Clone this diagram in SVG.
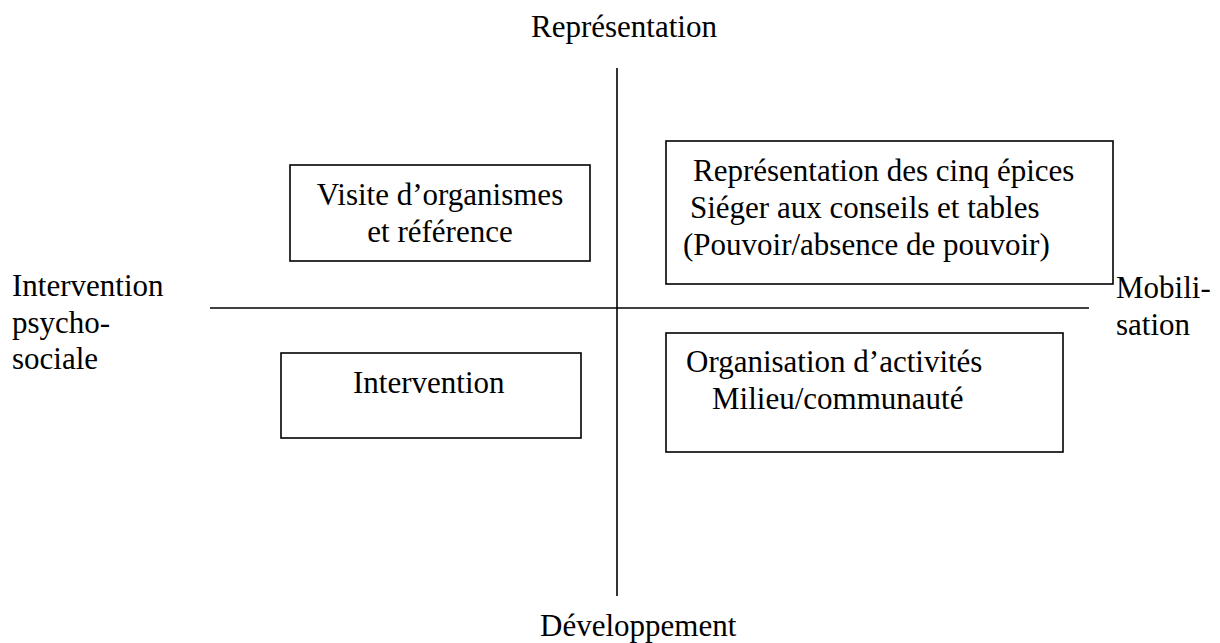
<svg xmlns="http://www.w3.org/2000/svg" width="1220" height="643" viewBox="0 0 1220 643">
<style>
text{font-family:"Liberation Serif","Times New Roman",serif;font-size:31px;fill:#000}
.box{fill:#fff;stroke:#000;stroke-width:1.6}
.axis{stroke:#000;stroke-width:1.6;fill:none}
</style>
<rect width="1220" height="643" fill="#fff"/>
<g id="connectors">
<line class="axis" x1="617" y1="68" x2="617" y2="596"/>
<line class="axis" x1="210" y1="308" x2="1089" y2="308"/>
</g>
<g id="label-top"><text x="531" y="37">Représentation</text></g>
<g id="label-bottom"><text x="540" y="636">Développement</text></g>
<g id="label-left">
<text x="12" y="296">Intervention</text>
<text x="12" y="333">psycho-</text>
<text x="12" y="369">sociale</text>
</g>
<g id="label-right">
<text x="1116" y="298">Mobili-</text>
<text x="1116" y="335">sation</text>
</g>
<g id="node-visite">
<rect class="box" x="290" y="165" width="300" height="96"/>
<text x="440" y="205" text-anchor="middle">Visite d’organismes</text>
<text x="440" y="242" text-anchor="middle">et référence</text>
</g>
<g id="node-representation">
<rect class="box" x="666" y="141" width="447" height="143"/>
<text x="693" y="181">Représentation des cinq épices</text>
<text x="690" y="218">Siéger aux conseils et tables</text>
<text x="683" y="255">(Pouvoir/absence de pouvoir)</text>
</g>
<g id="node-intervention">
<rect class="box" x="281" y="353" width="300" height="85"/>
<text x="353" y="393">Intervention</text>
</g>
<g id="node-organisation">
<rect class="box" x="666" y="333" width="397" height="119"/>
<text x="686" y="372">Organisation d’activités</text>
<text x="712" y="409">Milieu/communauté</text>
</g>
</svg>
